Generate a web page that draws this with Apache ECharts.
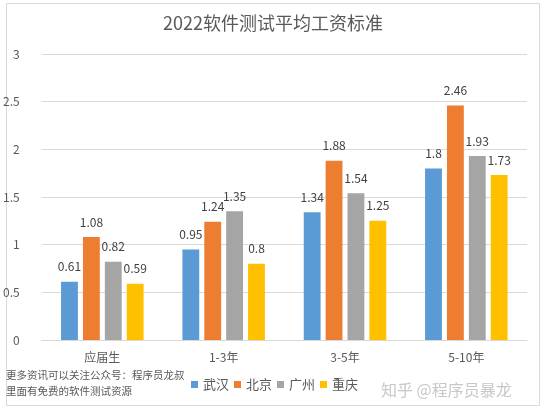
<!DOCTYPE html>
<html><head><meta charset="utf-8">
<script src="https://cdn.jsdelivr.net/npm/echarts@6/dist/echarts.min.js"></script>
<style>html,body{margin:0;padding:0;background:#fff}#c{width:546px;height:415px}</style>
</head><body><div id="c"></div>
<script>
const categories = ['应届生', '1-3年', '3-5年', '5-10年'];
const seriesNames = ['武汉', '北京', '广州', '重庆'];
const wuhan = [0.61, 0.95, 1.34, 1.8];
const beijing = [1.08, 1.24, 1.88, 2.46];
const guangzhou = [0.82, 1.35, 1.54, 1.93];
const chongqing = [0.59, 0.8, 1.25, 1.73];
const yTicks = [0, 0.5, 1, 1.5, 2, 2.5, 3];
const colors = ['#5B9BD5', '#ED7D31', '#A5A5A5', '#FFC000'];
const font = '"Noto Sans CJK SC", "Noto Sans", sans-serif';

const chart = echarts.init(document.getElementById('c'), null, {renderer: 'canvas'});
const allData = [wuhan, beijing, guangzhou, chongqing];
chart.setOption({
  animation: false,
  color: colors,
  title: {
    text: '2022软件测试平均工资标准', left: 'center', top: 9,
    textStyle: {fontFamily: font, fontSize: 18, fontWeight: 'normal', color: '#595959'}
  },
  grid: {left: 38, right: 19, top: 54, bottom: 75},
  legend: {
    data: seriesNames, left: 186, top: 373, itemWidth: 7, itemHeight: 7, itemGap: 5,
    icon: 'rect',
    textStyle: {fontFamily: font, fontSize: 13, color: '#595959'}
  },
  xAxis: {
    type: 'category', data: categories,
    axisLine: {lineStyle: {color: '#D9D9D9'}},
    axisTick: {show: false},
    axisLabel: {fontFamily: font, fontSize: 12, color: '#595959', margin: 11}
  },
  yAxis: {
    type: 'value', min: yTicks[0], max: yTicks[yTicks.length - 1], interval: 0.5,
    axisLine: {show: false}, axisTick: {show: false},
    splitLine: {lineStyle: {color: '#D9D9D9'}},
    axisLabel: {fontFamily: font, fontSize: 12, color: '#595959', margin: 22}
  },
  series: seriesNames.map((n, i) => ({
    name: n, type: 'bar', data: allData[i],
    barGap: '30%', barCategoryGap: '32%',
    label: {show: true, position: 'top', distance: 9, fontFamily: font, fontSize: 12, color: '#404040'}
  })),
  graphic: [
    {type: 'rect', shape: {x: 6.5, y: 3.5, width: 533, height: 402}, style: {fill: 'none', stroke: '#D9D9D9', lineWidth: 1}, z: -1},
    {type: 'text', left: 6, top: 370, style: {text: '更多资讯可以关注公众号：程序员龙叔', fontFamily: font, fontSize: 10.5, fill: '#595959'}},
    {type: 'text', left: 6, top: 386, style: {text: '里面有免费的软件测试资源', fontFamily: font, fontSize: 10.5, fill: '#595959'}},
    {type: 'text', left: 381, top: 382, style: {text: '知乎 @程序员暴龙', fontFamily: font, fontSize: 16, fill: '#C8C8C8'}}
  ]
});
</script></body></html>
